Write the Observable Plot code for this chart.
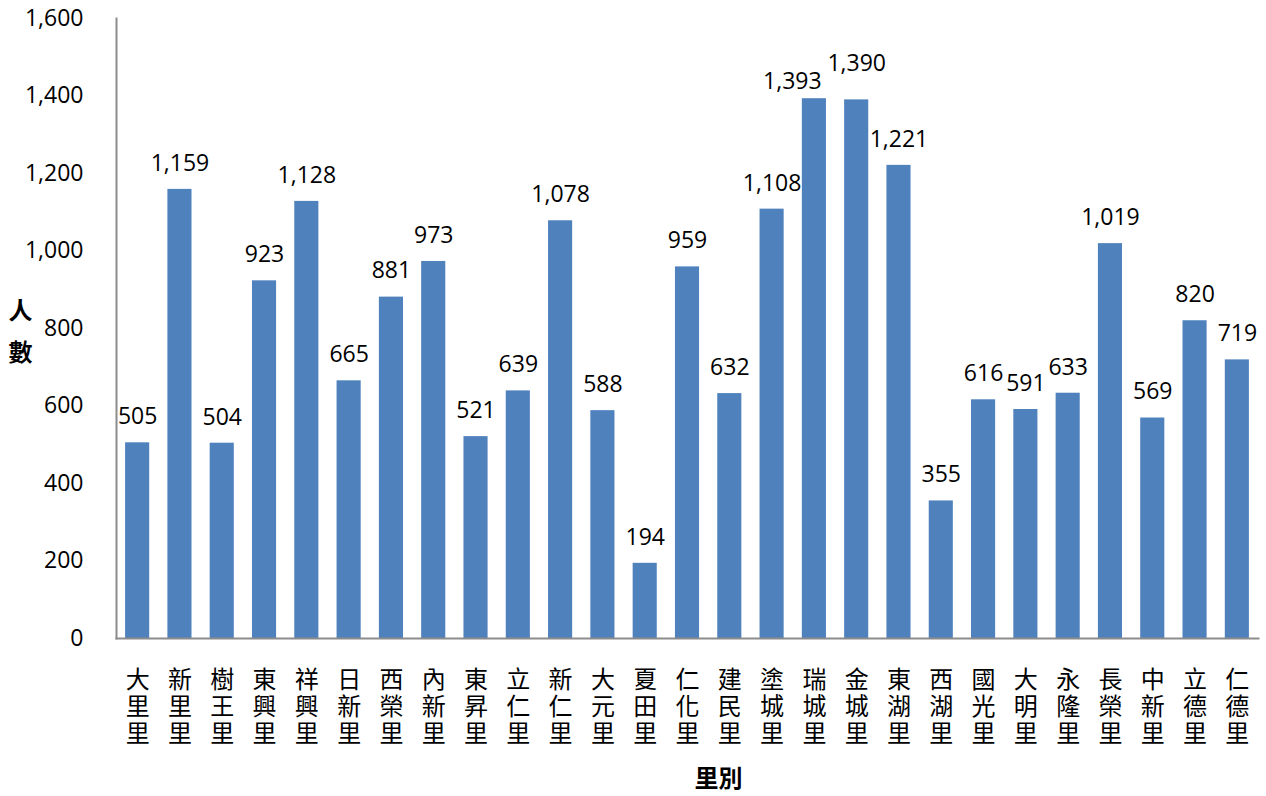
<!DOCTYPE html>
<html>
<head>
<meta charset="utf-8">
<script src="https://cdn.jsdelivr.net/npm/d3@7"></script>
<script src="https://cdn.jsdelivr.net/npm/@observablehq/plot@0.6"></script>
<style>
  html, body { margin: 0; padding: 0; background: #fff; }
</style>
</head>
<body>
<div id="chart"></div>
<script>
const villages = ["大里里","新里里","樹王里","東興里","祥興里","日新里","西榮里","內新里","東昇里","立仁里","新仁里","大元里","夏田里","仁化里","建民里","塗城里","瑞城里","金城里","東湖里","西湖里","國光里","大明里","永隆里","長榮里","中新里","立德里","仁德里"];
const counts = [505,1159,504,923,1128,665,881,973,521,639,1078,588,194,959,632,1108,1393,1390,1221,355,616,591,633,1019,569,820,719];
const yTicks = [0,200,400,600,800,1000,1200,1400,1600];

// label nudges (as in the reference, where two crowded labels were moved apart)
const labelNudge = {"瑞城里": [-22, 9], "金城里": [0, -10]};

const data = villages.map((v, i) => ({village: v, count: counts[i]}));
const fmt = d3.format(",");
const cjk = "'Noto Sans CJK TC', sans-serif";

const chart = Plot.plot({
  width: 1266,
  height: 796,
  marginTop: 18,
  marginBottom: 158,
  marginLeft: 116,
  marginRight: 8,
  style: {fontFamily: "'Open Sans', sans-serif", background: "#fff"},
  x: {domain: villages, paddingInner: 0.43, paddingOuter: 0.215, round: false, label: null, axis: null},
  y: {domain: [0, 1600], label: null},
  marks: [
    Plot.barY(data, {x: "village", y: "count", fill: "#4F81BD"}),
    Plot.text(data, {
      x: "village", y: "count", text: d => fmt(d.count),
      dy: -26, fontSize: 23, fill: "#000",
      render(index, scales, values, dimensions, context, next) {
        const g = next(index, scales, values, dimensions, context);
        d3.select(g).selectAll("text").each(function(_, j) {
          const v = data[index[j]].village;
          if (labelNudge[v]) {
            const [ddx, ddy] = labelNudge[v];
            const t = d3.select(this);
            const tr = t.attr("transform") || "";
            t.attr("transform", tr + ` translate(${ddx},${ddy})`);
          }
        });
        return g;
      }
    }),
    Plot.axisY({ticks: yTicks, tickFormat: fmt, tickSize: 0, tickPadding: 33, fontSize: 23, fill: "#000"}),
    // vertical (top-to-bottom) category labels
    Plot.text(villages, {
      x: d => d, frameAnchor: "bottom", dy: 28, text: d => d,
      textAnchor: "start", fontSize: 24, fontFamily: cjk, fill: "#000",
      render(index, scales, values, dimensions, context, next) {
        const g = next(index, scales, values, dimensions, context);
        d3.select(g).selectAll("text")
          .attr("dy", null)
          .style("writing-mode", "vertical-rl")
          .style("letter-spacing", "3px");
        return g;
      }
    }),
    Plot.frame({anchor: "left", stroke: "#8c8c8c", strokeWidth: 2}),
    Plot.frame({anchor: "bottom", stroke: "#8c8c8c", strokeWidth: 2}),
    Plot.text(["人"], {frameAnchor: "left", dx: -96, dy: 311 - 328, textAnchor: "middle", lineAnchor: "middle", fontSize: 24, fontWeight: "bold", fontFamily: cjk, fill: "#000"}),
    Plot.text(["數"], {frameAnchor: "left", dx: -96, dy: 353 - 328, textAnchor: "middle", lineAnchor: "middle", fontSize: 24, fontWeight: "bold", fontFamily: cjk, fill: "#000"}),
    Plot.text(["里別"], {frameAnchor: "bottom", dx: 31, dy: 141, textAnchor: "middle", lineAnchor: "middle", fontSize: 24, fontWeight: "bold", fontFamily: cjk, fill: "#000"})
  ]
});
document.getElementById("chart").appendChild(chart);
</script>
</body>
</html>
